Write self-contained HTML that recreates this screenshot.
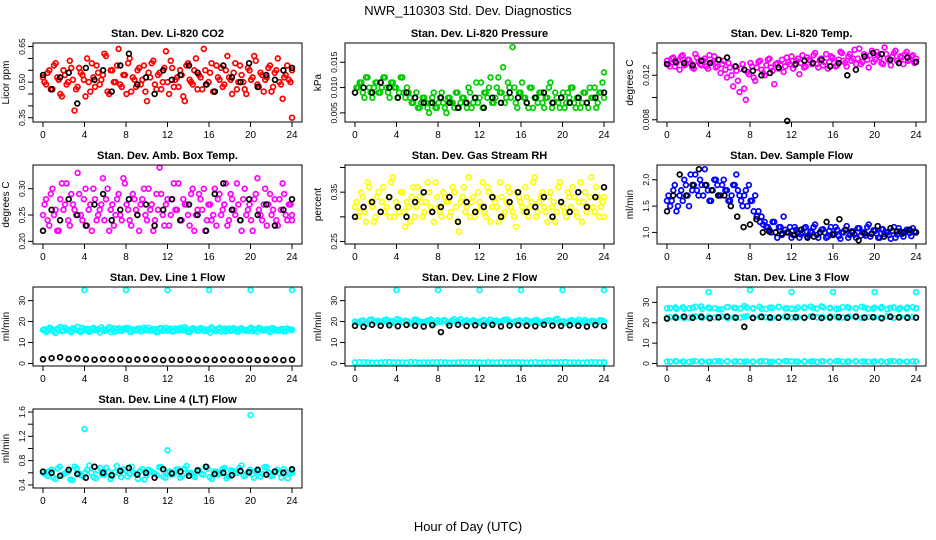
<!DOCTYPE html>
<html><head><meta charset="utf-8"><style>
body{margin:0;background:#fff}
svg{display:block;font-family:"Liberation Sans",sans-serif}
</style></head><body>
<svg id="chart" width="936" height="540" viewBox="0 0 936 540">
<rect width="936" height="540" fill="#fff"/>
<text x="468" y="15" font-size="13" text-anchor="middle">NWR_110303  Std. Dev. Diagnostics</text>
<text x="468" y="531" font-size="13" text-anchor="middle">Hour of Day (UTC)</text>
</svg>
<script>
const xTicks=[0,4,8,12,16,20,24];
const co2Red=[0.52,0.49,0.55,0.47,0.58,0.51,0.44,0.53,0.50,0.56,0.38,0.48,0.54,0.51,0.60,0.46,0.52,0.57,0.49,0.53,0.61,0.45,0.55,0.50,0.64,0.48,0.53,0.58,0.46,0.51,0.55,0.49,0.57,0.42,0.52,0.59,0.47,0.54,0.50,0.63,0.45,0.56,0.51,0.48,0.53,0.42,0.58,0.50,0.55,0.47,0.52,0.64,0.49,0.54,0.46,0.57,0.51,0.48,0.55,0.52,0.45,0.58,0.50,0.53,0.47,0.56,0.51,0.61,0.49,0.54,0.46,0.52,0.57,0.48,0.55,0.50,0.43,0.53,0.51,0.35];
const co2Red2=[0.50,0.54,0.47,0.57,0.52,0.45,0.55,0.49,0.59,0.51,0.47,0.56,0.53,0.44,0.50,0.58,0.48,0.54,0.51,0.62,0.46,0.55,0.50,0.57,0.49,0.53,0.45,0.60,0.52,0.48,0.56,0.51,0.46,0.54,0.58,0.49,0.53,0.47,0.56,0.50,0.59,0.48,0.52,0.55,0.44,0.57,0.51,0.49,0.60,0.53,0.47,0.55,0.50,0.58,0.46,0.52,0.56,0.49,0.61,0.51,0.54,0.47,0.57,0.50,0.45,0.55,0.52,0.59,0.48,0.53,0.51,0.56,0.46,0.54,0.60,0.49,0.52,0.57,0.50,0.55];
const co2Black=[0.53,0.47,0.52,0.54,0.41,0.56,0.51,0.55,0.46,0.57,0.62,0.49,0.52,0.45,0.55,0.51,0.53,0.57,0.54,0.49,0.46,0.57,0.52,0.50,0.58,0.48,0.53,0.51,0.55,0.56];
const presGreen=[0.009,0.010,0.011,0.008,0.012,0.009,0.010,0.011,0.009,0.012,0.010,0.008,0.011,0.010,0.009,0.012,0.008,0.009,0.007,0.008,0.006,0.007,0.008,0.006,0.007,0.009,0.006,0.008,0.007,0.005,0.008,0.007,0.009,0.006,0.008,0.007,0.010,0.006,0.008,0.007,0.011,0.009,0.008,0.012,0.007,0.010,0.009,0.014,0.008,0.010,0.018,0.007,0.009,0.011,0.008,0.006,0.010,0.008,0.007,0.009,0.006,0.008,0.011,0.007,0.008,0.006,0.009,0.007,0.008,0.010,0.006,0.008,0.007,0.009,0.006,0.008,0.010,0.007,0.009,0.013];
const presGreen2=[0.010,0.011,0.009,0.012,0.010,0.008,0.011,0.009,0.010,0.012,0.009,0.011,0.010,0.008,0.012,0.009,0.010,0.008,0.007,0.009,0.006,0.008,0.007,0.005,0.008,0.006,0.007,0.009,0.006,0.008,0.007,0.006,0.009,0.007,0.008,0.006,0.009,0.007,0.011,0.008,0.006,0.009,0.010,0.007,0.008,0.012,0.009,0.007,0.011,0.008,0.010,0.006,0.009,0.008,0.007,0.010,0.006,0.008,0.009,0.007,0.008,0.010,0.006,0.009,0.007,0.008,0.006,0.009,0.010,0.007,0.008,0.006,0.009,0.007,0.010,0.008,0.006,0.009,0.011,0.008];
const presBlack=[0.009,0.010,0.009,0.011,0.010,0.008,0.009,0.008,0.007,0.007,0.008,0.007,0.006,0.007,0.008,0.006,0.008,0.007,0.009,0.008,0.007,0.008,0.009,0.007,0.008,0.007,0.008,0.007,0.008,0.009];
const tempMag=[0.0133,0.0128,0.0136,0.0131,0.0125,0.0138,0.0130,0.0134,0.0127,0.0139,0.0132,0.0129,0.0135,0.0126,0.0131,0.0137,0.0128,0.0122,0.0133,0.0118,0.0127,0.0110,0.0124,0.0105,0.0130,0.0098,0.0121,0.0128,0.0115,0.0132,0.0125,0.0120,0.0134,0.0127,0.0112,0.0131,0.0129,0.0123,0.0136,0.0130,0.0126,0.0133,0.0121,0.0138,0.0128,0.0134,0.0130,0.0140,0.0127,0.0135,0.0132,0.0126,0.0137,0.0131,0.0129,0.0141,0.0133,0.0128,0.0139,0.0135,0.0130,0.0144,0.0132,0.0137,0.0127,0.0142,0.0134,0.0138,0.0131,0.0145,0.0135,0.0129,0.0140,0.0133,0.0137,0.0130,0.0141,0.0134,0.0138,0.0132];
const tempMag2=[0.0130,0.0135,0.0128,0.0133,0.0137,0.0129,0.0134,0.0131,0.0126,0.0136,0.0130,0.0133,0.0128,0.0138,0.0132,0.0127,0.0134,0.0130,0.0125,0.0131,0.0120,0.0128,0.0115,0.0126,0.0108,0.0123,0.0131,0.0118,0.0127,0.0133,0.0122,0.0129,0.0135,0.0124,0.0130,0.0126,0.0134,0.0128,0.0132,0.0137,0.0129,0.0135,0.0131,0.0127,0.0136,0.0133,0.0138,0.0130,0.0134,0.0129,0.0139,0.0132,0.0136,0.0128,0.0134,0.0140,0.0131,0.0137,0.0133,0.0143,0.0135,0.0130,0.0139,0.0134,0.0138,0.0132,0.0141,0.0136,0.0130,0.0139,0.0133,0.0137,0.0142,0.0131,0.0136,0.0139,0.0133,0.0137,0.0131,0.0135];
const tempBlack=[0.0130,0.0132,0.0131,0.0129,0.0133,0.0131,0.0134,0.0136,0.0128,0.0125,0.0124,0.0120,0.0122,0.0127,0.0079,0.0130,0.0133,0.0131,0.0134,0.0128,0.0131,0.0120,0.0125,0.0137,0.0140,0.0139,0.0134,0.0131,0.0136,0.0132];
const ambMag=[0.25,0.28,0.23,0.30,0.26,0.22,0.31,0.27,0.24,0.29,0.26,0.33,0.25,0.28,0.23,0.27,0.30,0.24,0.26,0.32,0.28,0.22,0.27,0.25,0.29,0.24,0.31,0.26,0.23,0.28,0.25,0.27,0.30,0.24,0.26,0.22,0.29,0.34,0.25,0.27,0.23,0.28,0.26,0.31,0.24,0.27,0.25,0.29,0.22,0.26,0.28,0.30,0.24,0.27,0.25,0.23,0.29,0.26,0.31,0.24,0.28,0.25,0.27,0.22,0.30,0.26,0.24,0.28,0.32,0.25,0.27,0.23,0.29,0.26,0.24,0.28,0.31,0.25,0.27,0.24];
const ambMag2=[0.27,0.24,0.29,0.25,0.22,0.28,0.26,0.31,0.23,0.27,0.25,0.29,0.24,0.30,0.26,0.22,0.28,0.25,0.27,0.24,0.30,0.26,0.23,0.28,0.25,0.32,0.27,0.24,0.29,0.26,0.22,0.28,0.25,0.30,0.27,0.24,0.26,0.29,0.23,0.28,0.25,0.31,0.26,0.24,0.28,0.27,0.23,0.30,0.25,0.29,0.26,0.22,0.27,0.24,0.30,0.28,0.25,0.27,0.23,0.29,0.26,0.31,0.24,0.28,0.25,0.27,0.22,0.29,0.26,0.24,0.30,0.27,0.25,0.28,0.23,0.26,0.29,0.24,0.27,0.25];
const ambBlack=[0.22,0.26,0.24,0.28,0.25,0.23,0.27,0.29,0.24,0.26,0.28,0.25,0.27,0.23,0.26,0.28,0.24,0.27,0.25,0.22,0.29,0.31,0.26,0.24,0.28,0.25,0.27,0.23,0.26,0.28];
const rhYel=[0.32,0.30,0.35,0.31,0.37,0.33,0.29,0.34,0.31,0.36,0.32,0.30,0.38,0.33,0.31,0.35,0.28,0.32,0.34,0.30,0.36,0.33,0.31,0.37,0.32,0.29,0.34,0.31,0.35,0.33,0.30,0.36,0.32,0.27,0.34,0.31,0.38,0.33,0.30,0.35,0.32,0.31,0.36,0.29,0.34,0.32,0.37,0.30,0.33,0.35,0.31,0.28,0.34,0.32,0.36,0.30,0.33,0.38,0.31,0.34,0.32,0.29,0.35,0.33,0.31,0.37,0.32,0.30,0.34,0.36,0.31,0.33,0.29,0.35,0.32,0.38,0.31,0.34,0.32,0.30];
const rhYel2=[0.33,0.31,0.34,0.29,0.36,0.32,0.30,0.35,0.33,0.31,0.34,0.37,0.30,0.32,0.35,0.31,0.33,0.29,0.36,0.32,0.34,0.30,0.33,0.35,0.31,0.37,0.32,0.30,0.34,0.33,0.31,0.35,0.29,0.33,0.36,0.32,0.30,0.34,0.31,0.33,0.37,0.30,0.35,0.32,0.33,0.29,0.34,0.31,0.36,0.32,0.30,0.35,0.33,0.31,0.34,0.32,0.37,0.30,0.33,0.35,0.31,0.34,0.32,0.29,0.36,0.33,0.31,0.35,0.32,0.34,0.30,0.37,0.33,0.31,0.34,0.32,0.36,0.30,0.33,0.34];
const rhBlack=[0.30,0.32,0.33,0.31,0.34,0.32,0.30,0.33,0.35,0.31,0.32,0.34,0.29,0.33,0.31,0.32,0.34,0.30,0.33,0.35,0.31,0.32,0.34,0.30,0.33,0.31,0.35,0.32,0.34,0.36];
const flowBlue=[1.6,1.5,1.8,1.4,1.7,1.6,1.9,1.5,1.8,2.1,1.7,1.9,2.2,1.8,1.6,2.0,1.9,1.7,2.0,1.8,1.6,1.9,2.1,1.7,1.5,1.8,1.9,1.6,1.7,1.4,1.3,1.2,1.1,1.0,1.2,0.9,1.1,1.3,1.0,1.1,0.95,1.05,0.9,1.0,1.1,0.95,1.0,1.15,0.9,1.05,1.0,0.92,1.1,0.98,1.05,0.88,1.0,1.12,0.95,1.02,0.9,1.08,1.0,0.94,1.15,0.98,1.03,0.9,1.06,0.97,1.0,0.88,1.1,0.96,1.02,0.92,1.05,0.99,1.08,1.0];
const flowBlue2=[1.7,1.6,1.9,1.5,1.8,2.0,1.7,2.1,1.9,1.8,2.0,1.7,1.9,1.6,1.8,2.0,1.7,1.9,1.8,1.6,1.7,1.9,1.8,1.6,1.7,1.5,1.6,1.4,1.3,1.2,1.15,1.1,1.05,1.2,1.0,1.1,0.95,1.05,1.0,0.9,1.1,1.0,0.96,1.08,0.92,1.02,1.1,0.95,1.0,1.06,0.9,1.03,0.97,1.1,0.93,1.0,1.05,0.9,1.02,0.96,1.08,0.94,1.0,1.1,0.92,1.04,0.98,0.9,1.06,1.0,0.95,1.03,0.9,1.08,0.97,1.0,1.05,0.93,1.02,1.0];
const flowBlack=[1.4,1.7,2.1,1.7,1.9,2.2,1.9,1.8,1.7,1.7,1.5,1.3,1.1,1.15,1.25,1.0,1.02,1.0,0.98,1.0,0.95,1.05,0.9,0.92,1.0,1.2,0.95,1.25,1.05,1.0,0.85,0.98,0.97,1.12,0.92,1.08,1.02,1.0,1.05,1.0];
const l1Cyan=[16,15,17,16,14.5,16.5,15.5,17,16,15,16.5,17.5,15,16,16.5,15.5,17,16,14.8,16.2,15.8,17.2,16,15.2,16.8,15.5,16.3,17,15,16,16.6,15.4,17.1,16,15.7,16.4,14.9,16.8,15.6,17,16.1,15.3,16.7,15.9,16.3,17.3,15.1,16,16.5,15.6,16.9,15.8,16.2,14.7,16.6,15.5,17,16.1,15.4,16.7,15.9,16.3,15.2,16.8,16,15.6,17.1,16.2,15.3,16.6,15.8,16.4,15,16.9,16.1,15.7,16.5,15.4,16.2,16];
const l1Cyan2=[16.3,15.6,16.9,15.2,16.5,17.4,15.8,16.1,15.4,16.8,16,15.5,17,16.4,15.1,16.6,15.9,16.2,17.2,15.6,16.4,15,16.8,16.1,15.7,16.5,17,15.3,16.2,15.9,16.7,15.5,16.3,17.1,15.8,16.4,15.2,16.9,16,15.6,16.6,15.4,16.2,17,15.9,16.5,15.1,16.8,16.3,15.7,16.6,15.5,16.1,17.2,15.8,16.4,15.3,16.7,16,15.6,16.9,15.2,16.5,16.1,15.7,16.6,15.4,16.3,17,15.9,16.2,15.5,16.8,16,15.6,16.4,15.3,16.7,16.1,16.2];
const l1Black=[2,2.5,3,2.2,2.4,2,1.8,2.1,1.9,2,1.7,1.9,2,1.8,1.6,1.8,1.7,1.9,1.6,1.8,1.7,1.9,1.6,1.7,1.8,1.6,1.7,1.9,1.6,1.8];
const l1OutH=[4,8,12,16,20,24];
const l1Out=[35,35,35,35,35,35];
const l2Cyan=[20,19.5,20.5,19,21,20,19.8,20.6,19.3,20.2,21.2,19.7,20.4,19.1,20.8,20,19.6,20.3,21,19.4,20.1,20.7,19.2,20.5,19.9,21.1,20,19.5,20.6,19.8,20.3,19.1,20.9,20.2,19.7,20.4,21,19.3,20.1,20.6,19.6,20.3,19.9,20.8,19.4,20.2,20.7,19.8,21.3,20,19.5,20.5,19.2,20.9,20.1,19.7,20.4,19.9,20.6,20];
const l2Cyan2=[19.6,20.4,19.2,20.8,19.9,20.3,19.5,21,20.1,19.4,20.7,19.8,20.2,19.3,20.9,20,19.7,20.5,19.1,20.6,19.9,20.3,19.6,21.1,20.2,19.4,20.6,19.8,20.1,19.5,20.8,20,19.3,20.4,19.7,20.9,20.1,19.5,20.3,19.8,20.7,19.2,20.5,20,19.6,20.4,19.9,21,19.4,20.2,19.7,20.6,20,19.3,20.8,19.9,20.3,19.6,20.5,20.1];
const l2Low=[0.5,0.6,0.4,0.5,0.7,0.5,0.4,0.6,0.5,0.5,0.6,0.4,0.5,0.6,0.5,0.4,0.5,0.6,0.5,0.5,0.4,0.6,0.5,0.5,0.6,0.4,0.5,0.5,0.6,0.5];
const l2Low2=[0.6,0.5,0.4,0.6,0.5,0.5,0.7,0.4,0.5,0.6,0.5,0.4,0.6,0.5,0.5,0.6,0.4,0.5,0.6,0.5,0.5,0.4,0.6,0.5,0.7,0.5,0.4,0.6,0.5,0.5];
const l2Black=[18,17.5,18.5,18,18.2,17.8,18.4,18,17.6,18.3,15,18.1,18.5,17.9,18.2,18,18.4,17.7,18.1,18.3,18,17.8,18.5,18.1,17.9,18.2,18,17.6,18.3,17.8];
const l2OutH=[4,8,12,16,20,24];
const l2Out=[35,35,35,35,35,35];
const l3Cyan=[27,27.5,26.8,27.3,28,27.1,26.6,27.6,27.2,28.2,27,26.9,27.4,27.8,27.1,26.7,27.5,27.2,28,27.3,26.8,27.6,27,27.4,26.9,27.7,27.2,26.6,27.5,27];
const l3Cyan2=[27.2,26.7,27.6,27,27.9,26.8,27.4,27.1,26.6,27.7,27.3,26.9,27.5,27,27.8,26.7,27.3,27.6,27,26.8,27.4,27.2,27.9,26.9,27.5,27.1,26.7,27.6,27.3,27,27.8,26.8,27.4,27.1,26.6,27.5,27.2,26.9,27.6,27.1];
const l3Mid=[22.5,23,22.2,22.8,23.3,22.4,22.7,23.1,22.3,22.9,22.6,23.2,22.4,22.8,22.5,23,22.3,22.9,22.6,23.1,22.4,22.7,23,22.5,22.8,22.3,23.2,22.6,22.9,22.5];
const l3Mid2=[22.7,22.3,22.9,22.5,23.1,22.4,22.8,22.6,23,22.2,22.7,22.5,23.2,22.4,22.9,22.6,22.3,22.8,23,22.5,22.7,22.4,23.1,22.6,22.8,22.3,22.9,22.5,23,22.6,22.4,22.8,22.7,22.5,23.1,22.3,22.9,22.6,22.8,22.5];
const l3Low=[1,1.2,0.8,1.1,1,0.9,1.2,1,1.1,0.9,1,1.1,0.8,1,1.2,1,0.9,1.1,1,1,1.2,0.9,1.1,1,0.8,1,1.1,1,0.9,1];
const l3Low2=[0.9,1.1,1,0.8,1.2,1,0.9,1.1,1,1.2,0.9,1,1.1,0.8,1,1.1,0.9,1,1.2,1,0.9,1.1,1,0.8,1.1,1,1.2,0.9,1,1.1,1,0.9,1.1,1,0.8,1.2,1,0.9,1.1,1];
const l3Black=[22,22.5,23,22.4,22.8,22.2,22.6,23,22.5,18,22.3,22.8,22.6,22.4,23,22.7,22.5,22.9,22.3,22.6,22.8,22.4,23,22.5,22.7,22.2,22.9,22.6,22.4,22.5];
const l3OutH=[4,8,12,16,20,24];
const l3Out=[35,36,35,35,35,35];
const l4Cyan=[0.6,0.55,0.65,0.5,0.7,0.58,0.62,0.48,0.67,0.56,0.6,0.72,0.53,0.64,0.57,0.68,0.5,0.61,0.59,0.66,0.54,0.7,0.58,0.63,0.49,0.65,0.6,0.56,0.69,0.52,0.62,0.58,0.66,0.55,0.71,0.6,0.53,0.64,0.57,0.67,0.5,0.62,0.59,0.68,0.54,0.63,0.6,0.72,0.56,0.65,0.52,0.61,0.58,0.69,0.55,0.63,0.6,0.66,0.51,0.64];
const l4Cyan2=[0.58,0.63,0.52,0.67,0.56,0.61,0.49,0.7,0.59,0.54,0.65,0.6,0.51,0.68,0.57,0.62,0.55,0.71,0.53,0.64,0.58,0.6,0.5,0.66,0.56,0.63,0.59,0.69,0.54,0.61,0.57,0.65,0.52,0.67,0.6,0.55,0.63,0.58,0.7,0.53,0.62,0.57,0.66,0.51,0.64,0.59,0.68,0.55,0.61,0.58,0.63,0.54,0.69,0.6,0.56,0.65,0.52,0.62,0.59,0.6];
const l4Black=[0.62,0.6,0.55,0.65,0.58,0.52,0.7,0.6,0.56,0.63,0.68,0.57,0.6,0.52,0.66,0.59,0.62,0.55,0.64,0.7,0.58,0.6,0.56,0.63,0.61,0.65,0.57,0.62,0.6,0.66];
const l4OutH=[4,12,20];
const l4Out=[1.32,0.97,1.55];

const panels=[
 {name:'co2',title:'Stan. Dev. Li-820 CO2',yl:'Licor ppm',col:0,row:0,ymin:0.332,ymax:0.665,ticks:[0.35,0.40,0.45,0.50,0.55,0.60,0.65],labs:['0.35','','','0.50','','','0.65'],s:[['#ff0000',co2Red],['#ff0000',co2Red2,null,0.5],['#000',co2Black]]},
 {name:'pressure',title:'Stan. Dev. Li-820 Pressure',yl:'kPa',col:1,row:0,ymin:0.0032,ymax:0.0188,ticks:[0.005,0.010,0.015],labs:['0.005','0.010','0.015'],s:[['#00cc00',presGreen],['#00cc00',presGreen2,null,0.5],['#000',presBlack]]},
 {name:'li820-temp',title:'Stan. Dev. Li-820 Temp.',yl:'degrees C',col:2,row:0,ymin:0.0078,ymax:0.0149,ticks:[0.008,0.010,0.012,0.014],labs:['0.008','','0.012',''],s:[['#ff00ff',tempMag],['#ff00ff',tempMag2,null,0.5],['#000',tempBlack]]},
 {name:'amb-box-temp',title:'Stan. Dev. Amb. Box Temp.',yl:'degrees C',col:0,row:1,ymin:0.195,ymax:0.345,ticks:[0.20,0.25,0.30],labs:['0.20','0.25','0.30'],s:[['#ff00ff',ambMag],['#ff00ff',ambMag2,null,0.5],['#000',ambBlack]]},
 {name:'gas-stream-rh',title:'Stan. Dev. Gas Stream RH',yl:'percent',col:1,row:1,ymin:0.245,ymax:0.405,ticks:[0.25,0.30,0.35,0.40],labs:['0.25','','0.35',''],s:[['#ffff00',rhYel],['#ffff00',rhYel2,null,0.5],['#000',rhBlack]]},
 {name:'sample-flow',title:'Stan. Dev. Sample Flow',yl:'ml/min',col:2,row:1,ymin:0.78,ymax:2.28,ticks:[1.0,1.5,2.0],labs:['1.0','1.5','2.0'],s:[['#0000ff',flowBlue],['#0000ff',flowBlue2,null,0.5],['#000',flowBlack]]},
 {name:'line1-flow',title:'Stan. Dev. Line 1 Flow',yl:'ml/min',col:0,row:2,ymin:-1.2,ymax:36.5,ticks:[0,10,20,30],labs:['0','10','20','30'],s:[['#00ffff',l1Cyan],['#00ffff',l1Cyan2,null,0.5],['#000',l1Black],['#00ffff',l1Out,l1OutH]]},
 {name:'line2-flow',title:'Stan. Dev. Line 2 Flow',yl:'ml/min',col:1,row:2,ymin:-1.2,ymax:36.5,ticks:[0,10,20,30],labs:['0','10','20','30'],s:[['#00ffff',l2Cyan],['#00ffff',l2Cyan2,null,0.5],['#00ffff',l2Low],['#00ffff',l2Low2,null,0.5],['#000',l2Black],['#00ffff',l2Out,l2OutH]]},
 {name:'line3-flow',title:'Stan. Dev. Line 3 Flow',yl:'ml/min',col:2,row:2,ymin:-1.2,ymax:37.5,ticks:[0,10,20,30],labs:['0','10','20','30'],s:[['#00ffff',l3Cyan],['#00ffff',l3Cyan2,null,0.5],['#00ffff',l3Mid],['#00ffff',l3Mid2,null,0.5],['#00ffff',l3Low],['#00ffff',l3Low2,null,0.5],['#000',l3Black],['#00ffff',l3Out,l3OutH]]},
 {name:'line4-flow',title:'Stan. Dev. Line 4 (LT) Flow',yl:'ml/min',col:0,row:3,ymin:0.35,ymax:1.65,ticks:[0.4,0.6,0.8,1.0,1.2,1.4,1.6],labs:['0.4','','0.8','','1.2','','1.6'],s:[['#00ffff',l4Cyan],['#00ffff',l4Cyan2,null,0.5],['#000',l4Black],['#00ffff',l4Out,l4OutH]]}
];
const NS='http://www.w3.org/2000/svg';
const svg=document.getElementById('chart');
const colL=[33,345,657],rowT=[43,165,287,409],W=269,H=79;
function mk(tag,at,parent){const e=document.createElementNS(NS,tag);for(const k in at)e.setAttribute(k,at[k]);parent.appendChild(e);return e;}
panels.forEach(p=>{
 const L=colL[p.col],T=rowT[p.row];
 const g=mk('g',{},svg);
 
 
 const xs=h=>L+W*(h+0.96)/25.92;
 const ys=v=>T+H*(p.ymax-v)/(p.ymax-p.ymin);
 const t=mk('text',{x:L+W/2,y:T-6,'font-size':11,'font-weight':'bold','text-anchor':'middle'},g);
 t.textContent=p.title;
 
 
 const yl=mk('text',{transform:`translate(${L-24},${T+H/2}) rotate(-90)`,'font-size':10,'text-anchor':'middle'},g);
 yl.textContent=p.yl;
 
 
 p.s.forEach(([c,vals,hrs,off])=>{
  const sg=mk('g',{fill:'none',stroke:c,'stroke-width':1.7},g);
  
  
  const o=off||0;
  vals.forEach((v,i)=>{
   const h=hrs?hrs[i]:Math.min(24,(i+o)*24/(vals.length-1));
   const pt=mk('circle',{cx:xs(h).toFixed(1),cy:ys(v).toFixed(1),r:2.4},sg);
   
   
  });
 });
 const box=mk('rect',{x:L,y:T,width:W,height:H,fill:'none',stroke:'#000','stroke-width':1},g);
 
 
 xTicks.forEach(h=>{
  const x=xs(h);
  mk('line',{x1:x,x2:x,y1:T+H,y2:T+H+5,stroke:'#000'},g);
  const tl=mk('text',{x:x,y:T+H+16,'font-size':10,'text-anchor':'middle'},g);
  tl.textContent=h;
  
  
 });
 p.ticks.forEach((v,i)=>{
  const y=ys(v);
  mk('line',{x1:L-5,x2:L,y1:y,y2:y,stroke:'#000'},g);
  if(p.labs[i]){
   const tl=mk('text',{transform:`translate(${L-8},${y}) rotate(-90)`,'font-size':8.5,'text-anchor':'middle'},g);
   tl.textContent=p.labs[i];
   
   
  }
 });
});
</script>
</body></html>
